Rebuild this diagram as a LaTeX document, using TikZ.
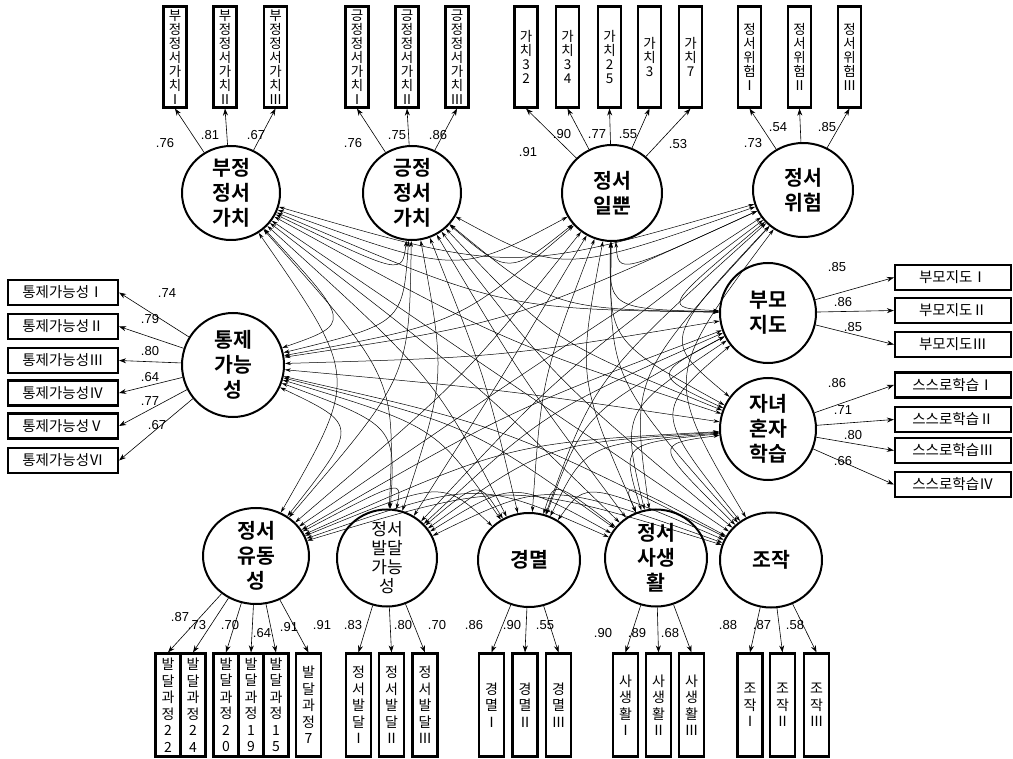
\documentclass[tikz,border=0pt]{standalone}
\usepackage{fontspec}
\setmainfont{Noto Sans CJK KR}[BoldFont={Noto Sans CJK KR Bold}]
\newfontfamily\numfont{Liberation Sans}
\usetikzlibrary{arrows.meta,shapes.geometric,calc}
\begin{document}
\begin{tikzpicture}[x=1pt,y=-1pt,
  lat/.style={ellipse,draw,line width=2pt,inner sep=-20pt,align=center,
    font=\fontsize{20.5}{25}\selectfont\bfseries},
  latsmall/.style={lat,font=\fontsize{17}{19}\selectfont},
  vbox/.style={draw,line width=2.2pt,minimum width=23pt,minimum height=101pt,
    inner sep=0pt,align=center,font=\fontsize{13.5}{14}\selectfont},
  bbox/.style={draw,line width=2.2pt,minimum width=25pt,minimum height=103pt,
    inner sep=0pt,align=center,font=\fontsize{14}{16.5}\selectfont},
  hbox/.style={draw,line width=2.2pt,minimum width=110pt,minimum height=25pt,
    inner sep=0pt,font=\fontsize{14.5}{15}\selectfont},
  rbox/.style={hbox,minimum width=116pt},
  num/.style={inner sep=0pt,font=\numfont\fontsize{13}{15}\selectfont},
  load/.style={-{Stealth[length=7pt,width=5pt]},line width=0.6pt},
  cov/.style={{Stealth[length=6pt,width=3.6pt]}-{Stealth[length=6pt,width=3.6pt]},line width=0.5pt}
]
\fill[white] (0,0) rectangle (1013,759);
\useasboundingbox (0,0) rectangle (1013,759);
\coordinate (C) at (505,380);

% latent factors
\node[lat,minimum width=98pt,minimum height=94pt] (F1) at (231,193) {부정\\정서\\가치};
\node[lat,minimum width=98pt,minimum height=94pt] (F2) at (412,193) {긍정\\정서\\가치};
\node[lat,minimum width=100pt,minimum height=96pt] (F3) at (612,193) {정서\\일뿐};
\node[lat,minimum width=100pt,minimum height=94pt] (F4) at (803,190) {정서\\위험};
\node[lat,minimum width=102pt,minimum height=104pt] (F5) at (233,365) {통제\\가능\\성};
\node[lat,minimum width=96pt,minimum height=100pt] (F6) at (768,313) {부모\\지도};
\node[lat,minimum width=96pt,minimum height=102pt] (F7) at (768,429) {자녀\\혼자\\학습};
\node[lat,minimum width=106pt,minimum height=96pt] (F8) at (256,556) {정서\\유동\\성};
\node[latsmall,minimum width=100pt,minimum height=97pt] (F9) at (387,558) {정서\\발달\\가능\\성};
\node[lat,minimum width=102pt,minimum height=94pt] (F10) at (529,560) {경멸};
\node[lat,minimum width=102pt,minimum height=97pt] (F11) at (656,558) {정서\\사생\\활};
\node[lat,minimum width=102pt,minimum height=95pt] (F12) at (771,560) {조작};

% top indicators
\node[vbox] (a1) at (175,57) {부\\정\\정\\서\\가\\치\\Ⅰ};
\node[vbox] (a2) at (225,57) {부\\정\\정\\서\\가\\치\\Ⅱ};
\node[vbox] (a3) at (275.5,57) {부\\정\\정\\서\\가\\치\\Ⅲ};
\node[vbox] (b1) at (357,57) {긍\\정\\정\\서\\가\\치\\Ⅰ};
\node[vbox] (b2) at (407,57) {긍\\정\\정\\서\\가\\치\\Ⅱ};
\node[vbox] (b3) at (457,57) {긍\\정\\정\\서\\가\\치\\Ⅲ};
\node[vbox] (c1) at (526,57) {가\\치\\3\\2};
\node[vbox] (c2) at (567.5,57) {가\\치\\3\\4};
\node[vbox] (c3) at (609.5,57) {가\\치\\2\\5};
\node[vbox] (c4) at (649.5,57) {가\\치\\3};
\node[vbox] (c5) at (690.5,57) {가\\치\\7};
\node[vbox] (d1) at (749.5,57) {정\\서\\위\\험\\Ⅰ};
\node[vbox] (d2) at (799.5,57) {정\\서\\위\\험\\Ⅱ};
\node[vbox] (d3) at (849.5,57) {정\\서\\위\\험\\Ⅲ};

% left indicators
\node[hbox] (e1) at (63,292.5) {통제가능성Ⅰ};
\node[hbox] (e2) at (63,326.5) {통제가능성Ⅱ};
\node[hbox] (e3) at (63,360.5) {통제가능성Ⅲ};
\node[hbox] (e4) at (63,393) {통제가능성Ⅳ};
\node[hbox] (e5) at (63,426) {통제가능성Ⅴ};
\node[hbox] (e6) at (63,460.5) {통제가능성Ⅵ};

% right indicators
\node[rbox] (f1) at (953,277.5) {부모지도Ⅰ};
\node[rbox] (f2) at (953,310.5) {부모지도Ⅱ};
\node[rbox] (f3) at (953,344.5) {부모지도Ⅲ};
\node[rbox] (g1) at (953,385) {스스로학습Ⅰ};
\node[rbox] (g2) at (953,419.5) {스스로학습Ⅱ};
\node[rbox] (g3) at (953,450.5) {스스로학습Ⅲ};
\node[rbox] (g4) at (953,484.5) {스스로학습Ⅳ};

% bottom indicators
\node[bbox] (h1) at (168,705) {발\\달\\과\\정\\2\\2};
\node[bbox] (h2) at (193,705) {발\\달\\과\\정\\2\\4};
\node[bbox] (h3) at (226,705) {발\\달\\과\\정\\2\\0};
\node[bbox] (h4) at (251,705) {발\\달\\과\\정\\1\\9};
\node[bbox] (h5) at (276,705) {발\\달\\과\\정\\1\\5};
\node[bbox] (h6) at (308.5,705) {발\\달\\과\\정\\7};
\node[bbox] (i1) at (358.5,705) {정\\서\\발\\달\\Ⅰ};
\node[bbox] (i2) at (391.5,705) {정\\서\\발\\달\\Ⅱ};
\node[bbox] (i3) at (425,705) {정\\서\\발\\달\\Ⅲ};
\node[bbox] (j1) at (491.5,705) {경\\멸\\Ⅰ};
\node[bbox] (j2) at (525,705) {경\\멸\\Ⅱ};
\node[bbox] (j3) at (558.5,705) {경\\멸\\Ⅲ};
\node[bbox] (k1) at (625.5,705) {사\\생\\활\\Ⅰ};
\node[bbox] (k2) at (658.5,705) {사\\생\\활\\Ⅱ};
\node[bbox] (k3) at (691.5,705) {사\\생\\활\\Ⅲ};
\node[bbox] (m1) at (750,705) {조\\작\\Ⅰ};
\node[bbox] (m2) at (782.5,705) {조\\작\\Ⅱ};
\node[bbox] (m3) at (816.5,705) {조\\작\\Ⅲ};

% loadings
\foreach \t in {a1,a2,a3} \draw[load] (F1) -- (\t.south);
\foreach \t in {b1,b2,b3} \draw[load] (F2) -- (\t.south);
\foreach \t in {c1,c2,c3,c4,c5} \draw[load] (F3) -- (\t.south);
\foreach \t in {d1,d2,d3} \draw[load] (F4) -- (\t.south);
\foreach \t in {e1,e2,e3,e4,e5,e6} \draw[load] (F5) -- (\t.east);
\foreach \t in {f1,f2,f3} \draw[load] (F6) -- (\t.west);
\foreach \t in {g1,g2,g3,g4} \draw[load] (F7) -- (\t.west);
\foreach \t in {h1,h2,h3,h4,h5,h6} \draw[load] (F8) -- (\t.north);
\foreach \t in {i1,i2,i3} \draw[load] (F9) -- (\t.north);
\foreach \t in {j1,j2,j3} \draw[load] (F10) -- (\t.north);
\foreach \t in {k1,k2,k3} \draw[load] (F11) -- (\t.north);
\foreach \t in {m1,m2,m3} \draw[load] (F12) -- (\t.north);

% loading values
\node[num] (n1) at (165,143) {.76};
\node[num] (n2) at (210,135) {.81};
\node[num] (n3) at (256,135) {.67};
\node[num] (n4) at (353,143) {.76};
\node[num] (n5) at (397,135) {.75};
\node[num] (n6) at (438,135) {.86};
\node[num] (n7) at (528,152) {.91};
\node[num] (n8) at (562,134) {.90};
\node[num] (n9) at (597,134) {.77};
\node[num] (n10) at (628,134) {.55};
\node[num] (n11) at (678,144) {.53};
\node[num] (n12) at (753,143) {.73};
\node[num] (n13) at (778,127) {.54};
\node[num] (n14) at (827,127) {.85};
\node[num] (n15) at (167,293) {.74};
\node[num] (n16) at (150,319) {.79};
\node[num] (n17) at (150,351) {.80};
\node[num] (n18) at (150,377) {.64};
\node[num] (n19) at (150,401) {.77};
\node[num] (n20) at (157,425) {.67};
\node[num] (n21) at (837,267) {.85};
\node[num] (n22) at (843,302) {.86};
\node[num] (n23) at (853,327) {.85};
\node[num] (n24) at (837,383) {.86};
\node[num] (n25) at (843,410) {.71};
\node[num] (n26) at (853,435) {.80};
\node[num] (n27) at (843,461) {.66};
\node[num] (n28) at (180,617) {.87};
\node[num] (n29) at (197,625) {.73};
\node[num] (n30) at (230,625) {.70};
\node[num] (n31) at (262,633) {.64};
\node[num] (n32) at (289,627) {.91};
\node[num] (n33) at (322,625) {.91};
\node[num] (n34) at (353,625) {.83};
\node[num] (n35) at (403,625) {.80};
\node[num] (n36) at (437,625) {.70};
\node[num] (n37) at (474,625) {.86};
\node[num] (n38) at (512,625) {.90};
\node[num] (n39) at (545,625) {.55};
\node[num] (n40) at (603,633) {.90};
\node[num] (n41) at (637,633) {.89};
\node[num] (n42) at (670,633) {.68};
\node[num] (n43) at (728,625) {.88};
\node[num] (n44) at (762,625) {.87};
\node[num] (n45) at (795,625) {.58};

% covariances
\foreach \i in {1,...,11} {
  \pgfmathtruncatemacro\js{\i+1}
  \foreach \j in {\js,...,12} {
    \draw[cov] (F\i) .. controls ($0.28*(F\i)+0.28*(F\j)+0.44*(C)$) .. (F\j);
  }
}
\end{tikzpicture}
\end{document}
